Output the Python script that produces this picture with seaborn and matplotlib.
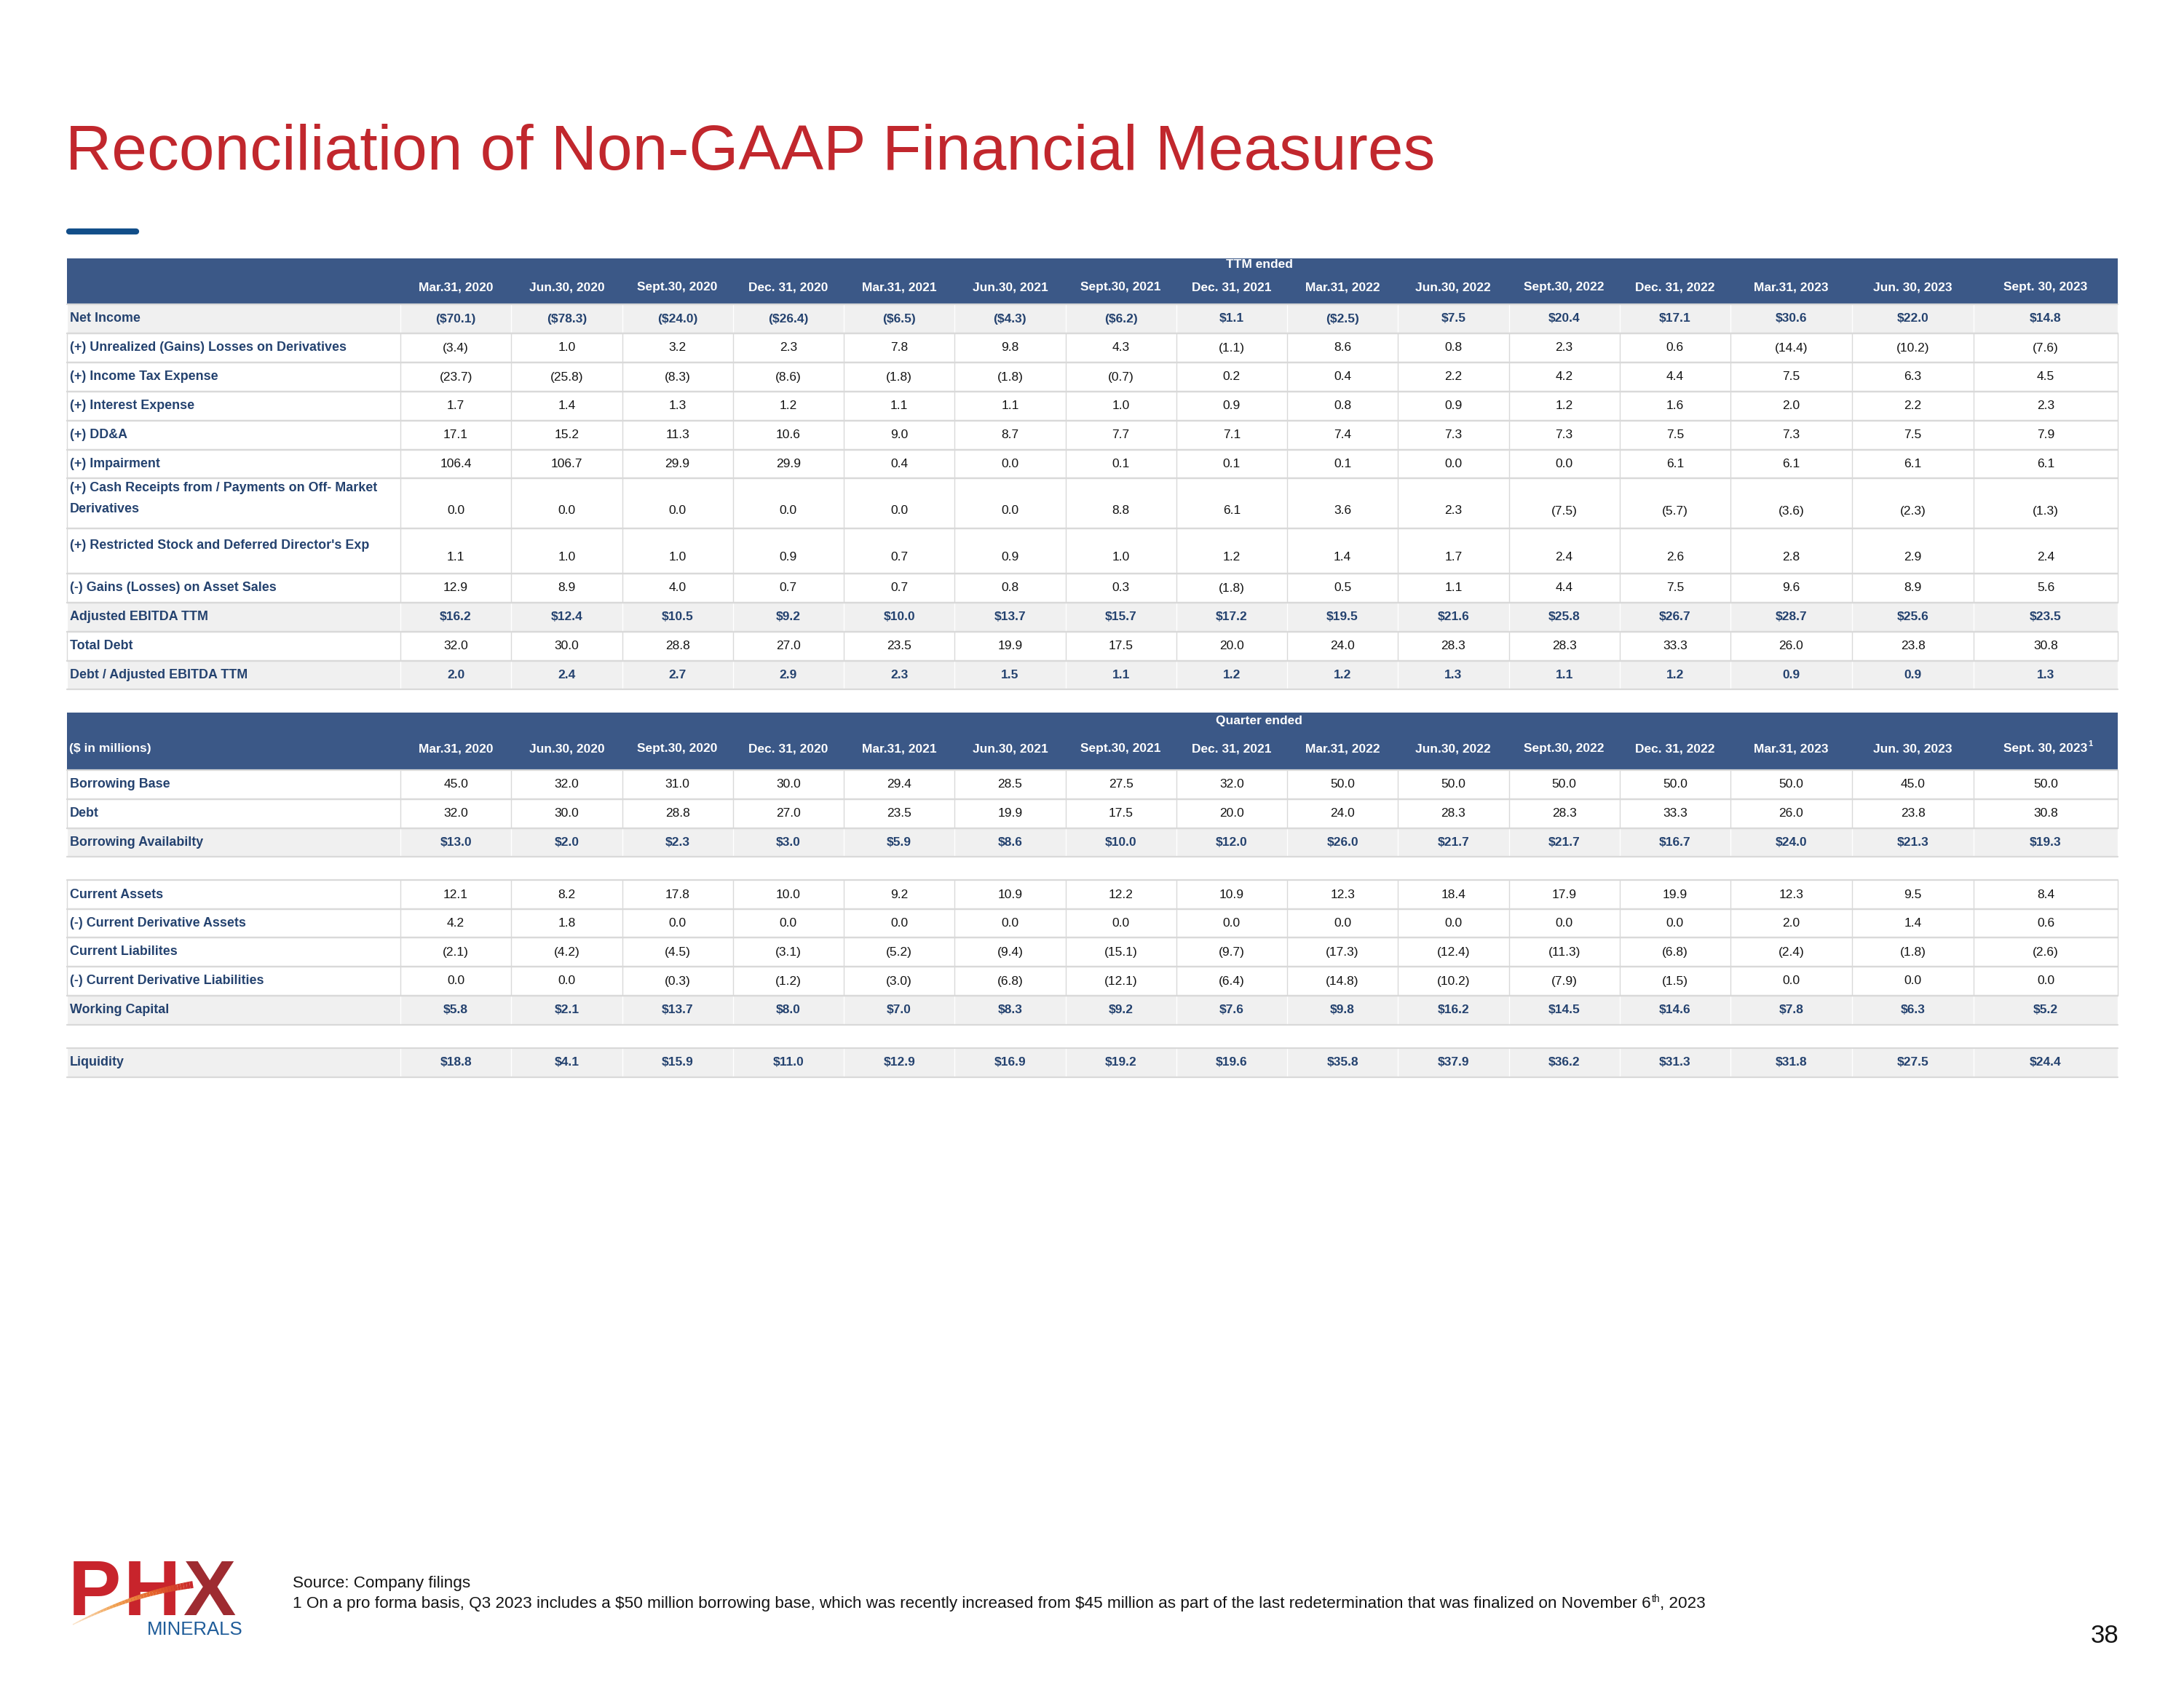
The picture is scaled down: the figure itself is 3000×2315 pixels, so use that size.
import matplotlib
matplotlib.use("Agg")
import matplotlib.pyplot as plt
from matplotlib.patches import Rectangle
from matplotlib.collections import LineCollection
import numpy as np
import seaborn as sns

# ------------------------------------------------------------------ data
periods = ["Mar.31, 2020", "Jun.30, 2020", "Sept.30, 2020", "Dec. 31, 2020",
           "Mar.31, 2021", "Jun.30, 2021", "Sept.30, 2021", "Dec. 31, 2021",
           "Mar.31, 2022", "Jun.30, 2022", "Sept.30, 2022", "Dec. 31, 2022",
           "Mar.31, 2023", "Jun. 30, 2023", "Sept. 30, 2023"]

net_income = [-70.1, -78.3, -24.0, -26.4, -6.5, -4.3, -6.2, 1.1, -2.5, 7.5, 20.4, 17.1, 30.6, 22.0, 14.8]
unrealized = [-3.4, 1.0, 3.2, 2.3, 7.8, 9.8, 4.3, -1.1, 8.6, 0.8, 2.3, 0.6, -14.4, -10.2, -7.6]
income_tax = [-23.7, -25.8, -8.3, -8.6, -1.8, -1.8, -0.7, 0.2, 0.4, 2.2, 4.2, 4.4, 7.5, 6.3, 4.5]
interest_exp = [1.7, 1.4, 1.3, 1.2, 1.1, 1.1, 1.0, 0.9, 0.8, 0.9, 1.2, 1.6, 2.0, 2.2, 2.3]
dda = [17.1, 15.2, 11.3, 10.6, 9.0, 8.7, 7.7, 7.1, 7.4, 7.3, 7.3, 7.5, 7.3, 7.5, 7.9]
impairment = [106.4, 106.7, 29.9, 29.9, 0.4, 0.0, 0.1, 0.1, 0.1, 0.0, 0.0, 6.1, 6.1, 6.1, 6.1]
cash_receipts = [0.0, 0.0, 0.0, 0.0, 0.0, 0.0, 8.8, 6.1, 3.6, 2.3, -7.5, -5.7, -3.6, -2.3, -1.3]
restricted_stock = [1.1, 1.0, 1.0, 0.9, 0.7, 0.9, 1.0, 1.2, 1.4, 1.7, 2.4, 2.6, 2.8, 2.9, 2.4]
asset_sales = [12.9, 8.9, 4.0, 0.7, 0.7, 0.8, 0.3, -1.8, 0.5, 1.1, 4.4, 7.5, 9.6, 8.9, 5.6]
adj_ebitda = [16.2, 12.4, 10.5, 9.2, 10.0, 13.7, 15.7, 17.2, 19.5, 21.6, 25.8, 26.7, 28.7, 25.6, 23.5]
total_debt = [32.0, 30.0, 28.8, 27.0, 23.5, 19.9, 17.5, 20.0, 24.0, 28.3, 28.3, 33.3, 26.0, 23.8, 30.8]
debt_to_ebitda = [2.0, 2.4, 2.7, 2.9, 2.3, 1.5, 1.1, 1.2, 1.2, 1.3, 1.1, 1.2, 0.9, 0.9, 1.3]

borrowing_base = [45.0, 32.0, 31.0, 30.0, 29.4, 28.5, 27.5, 32.0, 50.0, 50.0, 50.0, 50.0, 50.0, 45.0, 50.0]
debt = [32.0, 30.0, 28.8, 27.0, 23.5, 19.9, 17.5, 20.0, 24.0, 28.3, 28.3, 33.3, 26.0, 23.8, 30.8]
borrowing_avail = [13.0, 2.0, 2.3, 3.0, 5.9, 8.6, 10.0, 12.0, 26.0, 21.7, 21.7, 16.7, 24.0, 21.3, 19.3]
current_assets = [12.1, 8.2, 17.8, 10.0, 9.2, 10.9, 12.2, 10.9, 12.3, 18.4, 17.9, 19.9, 12.3, 9.5, 8.4]
cur_deriv_assets = [4.2, 1.8, 0.0, 0.0, 0.0, 0.0, 0.0, 0.0, 0.0, 0.0, 0.0, 0.0, 2.0, 1.4, 0.6]
current_liab = [-2.1, -4.2, -4.5, -3.1, -5.2, -9.4, -15.1, -9.7, -17.3, -12.4, -11.3, -6.8, -2.4, -1.8, -2.6]
cur_deriv_liab = [0.0, 0.0, -0.3, -1.2, -3.0, -6.8, -12.1, -6.4, -14.8, -10.2, -7.9, -1.5, 0.0, 0.0, 0.0]
working_capital = [5.8, 2.1, 13.7, 8.0, 7.0, 8.3, 9.2, 7.6, 9.8, 16.2, 14.5, 14.6, 7.8, 6.3, 5.2]
liquidity = [18.8, 4.1, 15.9, 11.0, 12.9, 16.9, 19.2, 19.6, 35.8, 37.9, 36.2, 31.3, 31.8, 27.5, 24.4]

title = "Reconciliation of Non-GAAP Financial Measures"
top_group = "TTM ended"
bottom_group = "Quarter ended"
bottom_corner = "($ in millions)"
source_note = "Source: Company filings"
footnote_a = ("1 On a pro forma basis, Q3 2023 includes a $50 million borrowing base, which was recently "
              "increased from $45 million as part of the last redetermination that was finalized on November 6")
footnote_sup = "th"
footnote_b = ", 2023"
page_no = "38"
logo_letters = ["P", "H", "X"]
logo_sub = "MINERALS"

# (label, values, grey background, bold values, dollar sign)
top_rows = [
    ("Net Income", net_income, True, True, True),
    ("(+) Unrealized (Gains) Losses on Derivatives", unrealized, False, False, False),
    ("(+) Income Tax Expense", income_tax, False, False, False),
    ("(+) Interest Expense", interest_exp, False, False, False),
    ("(+) DD&A", dda, False, False, False),
    ("(+) Impairment", impairment, False, False, False),
    ("(+) Cash Receipts from / Payments on Off- Market\nDerivatives", cash_receipts, False, False, False),
    ("(+) Restricted Stock and Deferred Director's Exp", restricted_stock, False, False, False),
    ("(-) Gains (Losses) on Asset Sales", asset_sales, False, False, False),
    ("Adjusted EBITDA TTM", adj_ebitda, True, True, True),
    ("Total Debt", total_debt, False, False, False),
    ("Debt / Adjusted EBITDA TTM", debt_to_ebitda, True, True, False),
]
bottom_rows = [
    ("Borrowing Base", borrowing_base, False, False, False),
    ("Debt", debt, False, False, False),
    ("Borrowing Availabilty", borrowing_avail, True, True, True),
    ("Current Assets", current_assets, False, False, False),
    ("(-) Current Derivative Assets", cur_deriv_assets, False, False, False),
    ("Current Liabilites", current_liab, False, False, False),
    ("(-) Current Derivative Liabilities", cur_deriv_liab, False, False, False),
    ("Working Capital", working_capital, True, True, True),
    ("Liquidity", liquidity, True, True, True),
]

# ------------------------------------------------------------------ layout (pixels)
W, H = 3000, 2315
X0, XL, X1 = 92, 550, 2909
col_edges = [XL + 152.25 * i for i in range(13)] + [2544, 2711, X1]
top_head = (355, 418)
top_edges = [(418, 458), (458, 498), (498, 538), (538, 578), (578, 618), (618, 657),
             (657, 726), (726, 788), (788, 828), (828, 868), (868, 908), (908, 947)]
top_label_y = {6: 685, 7: 750}
top_value_y = {6: 702, 7: 765}
bot_head = (979, 1058)
bot_edges = [(1058, 1098), (1098, 1138), (1138, 1177), (1209, 1249), (1249, 1288),
             (1288, 1328), (1328, 1368), (1368, 1408), (1440, 1480)]

HEAD = "#3B5887"
NAVY = "#24426F"
GREY = "#F0F0F0"
LINE = "#D9D9D9"
RED = "#C1272D"
TXT = "#141414"

FS_HEAD = 12.5
FS_LAB = 12.9
FS_VAL = 12.5

sns.set_theme(style="white")
plt.rcParams["font.family"] = ["Liberation Sans", "DejaVu Sans"]

fig = plt.figure(figsize=(W / 100, H / 100), dpi=100)
ax = fig.add_axes([0, 0, 1, 1])
ax.set_xlim(0, W)
ax.set_ylim(H, 0)
ax.axis("off")
renderer = fig.canvas.get_renderer()


def fmt(v, dollar):
    s = f"{abs(v):.1f}"
    if dollar:
        s = "$" + s
    return f"({s})" if v < 0 else s


def draw_header(band, corner, group, sup_last=False):
    top, bot = band
    ax.add_patch(Rectangle((X0, top), X1 - X0, bot - top, color=HEAD, lw=0, zorder=0))
    ylab = top + (bot - top) * 0.63
    ygrp = top + (bot - top) * 0.14
    ax.text((XL + X1) / 2, ygrp, group, color="white", fontsize=FS_HEAD, fontweight="bold",
            ha="center", va="center")
    if corner:
        ax.text(X0 + 3, ylab, corner, color="white", fontsize=FS_HEAD, fontweight="bold",
                ha="left", va="center")
    for j, p in enumerate(periods):
        cx = (col_edges[j] + col_edges[j + 1]) / 2
        t = ax.text(cx, ylab, p, color="white", fontsize=FS_HEAD, fontweight="bold",
                    ha="center", va="center")
        if sup_last and j == len(periods) - 1:
            bb = t.get_window_extent(renderer=renderer)
            ax.text(bb.x1 + 1, ylab - 7, "1", color="white", fontsize=8, fontweight="bold",
                    ha="left", va="center")


def draw_body(edges, rows, label_y=None, value_y=None):
    label_y = label_y or {}
    value_y = value_y or {}
    for i, (label, vals, grey, bold, dollar) in enumerate(rows):
        top, bot = edges[i]
        if grey:
            ax.add_patch(Rectangle((X0, top), X1 - X0, bot - top, color=GREY, lw=0, zorder=0))
        for e in [X0] + col_edges:
            ax.plot([e, e], [top, bot], color=("white" if grey else LINE), lw=1.0, zorder=1,
                    solid_capstyle="butt")
        ax.plot([X0, X1], [top, top], color=LINE, lw=1.6, zorder=2)
        ax.plot([X0, X1], [bot, bot], color=LINE, lw=1.6, zorder=2)
        yc = (top + bot) / 2
        ly = label_y.get(i, yc)
        vy = value_y.get(i, yc)
        ax.text(X0 + 4, ly, label, color=NAVY, fontsize=FS_LAB, fontweight="bold",
                ha="left", va="center", linespacing=1.95, zorder=3)
        for j, v in enumerate(vals):
            cx = (col_edges[j] + col_edges[j + 1]) / 2
            ax.text(cx, vy, fmt(v, dollar), color=(NAVY if bold else TXT), fontsize=FS_VAL,
                    fontweight=("bold" if bold else "normal"), ha="center", va="center", zorder=3)


# title and accent bar
ax.text(90, 233, title, color=RED, fontsize=63, ha="left", va="baseline")
ax.plot([95, 187], [318, 318], color="#124E89", lw=6, solid_capstyle="round")

# tables
draw_header(top_head, None, top_group)
draw_body(top_edges, top_rows, top_label_y, top_value_y)
draw_header(bot_head, bottom_corner, bottom_group, sup_last=True)
draw_body(bot_edges, bottom_rows)

# footer text
FS_FOOT = 16.2
ax.text(402, 2181, source_note, color=TXT, fontsize=FS_FOOT, ha="left", va="baseline")
t = ax.text(402, 2209, footnote_a.replace("$", r"\$"), color=TXT, fontsize=FS_FOOT,
            ha="left", va="baseline")
x = t.get_window_extent(renderer=renderer).x1
t = ax.text(x + 1, 2201, footnote_sup, color=TXT, fontsize=10, ha="left", va="baseline")
x = t.get_window_extent(renderer=renderer).x1
ax.text(x, 2209, footnote_b, color=TXT, fontsize=FS_FOOT, ha="left", va="baseline")
ax.text(2910, 2257, page_no, color=TXT, fontsize=25, ha="right", va="baseline")

# logo
logo_cols = ["#C8242C", "#C8242C", "#9E2B31"]
xx = 94
for letter, col in zip(logo_letters, logo_cols):
    t = ax.text(xx, 2219, letter, color=col, fontsize=78, fontweight="bold",
                ha="left", va="baseline")
    xx = t.get_window_extent(renderer=renderer).x1 + 3
tt = np.linspace(0, 1, 40)
sx = 100 + 165 * tt
sy = 2232 - 85 * tt + 30 * tt ** 2
pts = np.column_stack([sx, sy]).reshape(-1, 1, 2)
segs = np.concatenate([pts[:-1], pts[1:]], axis=1)
cmap = sns.blend_palette(["#FBE3C8", "#F0A050", "#E4622A", "#C8242C"], as_cmap=True)
lc = LineCollection(segs, colors=cmap(tt[:-1]), linewidths=np.linspace(1, 7, 39), zorder=4)
ax.add_collection(lc)
ax.text(333, 2246, logo_sub, color="#1F5C99", fontsize=18.5, ha="right", va="baseline")

fig.savefig("out.png", dpi=100, facecolor="white")
